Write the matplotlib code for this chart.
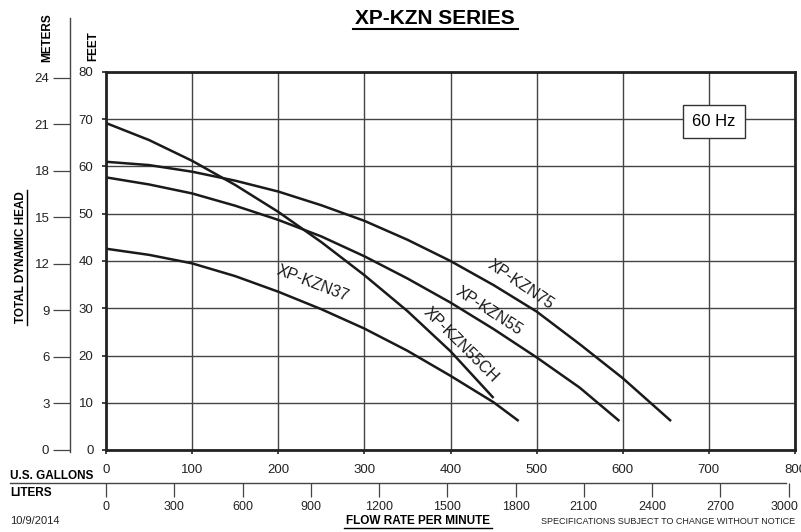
import numpy as np
import matplotlib
matplotlib.use("Agg")
import matplotlib.pyplot as plt
import matplotlib.transforms as mtrans

plt.rcParams['font.family'] = ['Liberation Sans', 'DejaVu Sans']

# flow (US gallons per minute) vs head (feet)
gal_75 = [0, 50, 100, 150, 200, 250, 300, 350, 400, 450, 500, 550, 600, 655]
ft_75 = [61, 60.3, 58.9, 57, 54.7, 51.8, 48.5, 44.5, 40, 34.9, 29.3, 22.4, 15.2, 6.3]

gal_55 = [0, 50, 100, 150, 200, 250, 300, 350, 400, 450, 500, 550, 595]
ft_55 = [57.7, 56.2, 54.3, 51.7, 48.7, 45.2, 41, 36.3, 31.2, 25.6, 19.6, 13.2, 6.3]

gal_55ch = [0, 50, 100, 150, 200, 250, 300, 350, 400, 449]
ft_55ch = [69.2, 65.6, 61.2, 56.1, 50.4, 44, 37, 29.4, 20.9, 11.2]

gal_37 = [0, 50, 100, 150, 200, 250, 300, 350, 400, 450, 478]
ft_37 = [42.6, 41.3, 39.5, 36.8, 33.5, 29.8, 25.7, 21, 15.7, 10.1, 6.3]

gal_ticks = list(range(0, 801, 100))
ft_ticks = list(range(0, 81, 10))
m_ticks = list(range(0, 25, 3))
l_ticks = list(range(0, 3001, 300))

curve_labels = ["XP-KZN75", "XP-KZN55", "XP-KZN55CH", "XP-KZN37"]

fig = plt.figure(figsize=(8.01, 5.32), dpi=100)
ax = fig.add_axes([106 / 801, 1 - 450 / 532, 689 / 801, 378 / 532])

ax.set_xlim(0, 800)
ax.set_ylim(0, 80)
ax.set_xticks(gal_ticks)
ax.set_yticks(ft_ticks)
ax.grid(True, color='#444444', linewidth=1.0)
ax.set_axisbelow(True)
for s in ax.spines.values():
    s.set_linewidth(2.0)
    s.set_color('#222222')
ax.tick_params(axis='both', labelsize=9.5, length=3, width=1.2, colors='#222222')
ax.tick_params(axis='y', pad=6)
ax.tick_params(axis='x', pad=7)

lc = '#1a1a1a'
ax.plot(gal_75, ft_75, color=lc, lw=1.8)
ax.plot(gal_55, ft_55, color=lc, lw=1.8)
ax.plot(gal_55ch, ft_55ch, color=lc, lw=1.8)
ax.plot(gal_37, ft_37, color=lc, lw=1.8)

lab_kw = dict(fontsize=11.5, color='#1a1a1a', ha='center', va='center', rotation_mode='anchor')
ax.text(481, 35.0, curve_labels[0], rotation=-34, **lab_kw)
ax.text(445, 29.5, curve_labels[1], rotation=-33, **lab_kw)
ax.text(412, 22.3, curve_labels[2], rotation=-45, **lab_kw)
ax.text(240, 35.3, curve_labels[3], rotation=-21, **lab_kw)

ax.text(706, 69.5, "60 Hz", fontsize=12, ha='center', va='center',
        bbox=dict(boxstyle='square,pad=0.55', fc='white', ec='#333333', lw=1))

# meters axis
m_ax = ax.secondary_yaxis(-0.052, functions=(lambda f: f * 0.3048, lambda m: m / 0.3048))
m_ax.set_yticks(m_ticks)
m_ax.spines['left'].set_visible(False)
m_ax.tick_params(axis='y', length=12, width=0.9, colors='#444444', labelcolor='#222222',
                 labelsize=9.5, pad=3)
ax.plot([-0.052, -0.052], [-0.005, 1.143], transform=ax.transAxes, clip_on=False,
        color='#444444', lw=1)

# liters axis
l_ax = ax.secondary_xaxis(-0.0873, functions=(lambda g: g * 3.78541, lambda l: l / 3.78541))
l_ax.set_xticks(l_ticks)
l_ax.spines['bottom'].set_visible(False)
l_ax.tick_params(axis='x', length=10, width=0.9, colors='#444444', labelcolor='#222222',
                 labelsize=9, pad=3)
ax.plot([-0.139, 0.9875], [-0.0873, -0.0873], transform=ax.transAxes, clip_on=False,
        color='#444444', lw=1)
last = l_ax.get_xticklabels()[-1]
last.set_transform(last.get_transform() + mtrans.ScaledTranslation(-4 / 100, 0, fig.dpi_scale_trans))

# texts
fig.text(435 / 801, 1 - 18 / 532, "XP-KZN SERIES", fontsize=15, fontweight='bold',
         ha='center', va='center')
fig.add_artist(plt.Line2D([353 / 801, 518 / 801], [1 - 29 / 532, 1 - 29 / 532], color='black', lw=1.5))

fig.text(47 / 801, 1 - 38 / 532, "METERS", fontsize=8.5, fontweight='bold', rotation=90,
         ha='center', va='center')
fig.text(93 / 801, 1 - 46 / 532, "FEET", fontsize=8.5, fontweight='bold', rotation=90,
         ha='center', va='center')
fig.text(21 / 801, 1 - 257 / 532, "TOTAL DYNAMIC HEAD", fontsize=8.5, fontweight='bold',
         rotation=90, ha='center', va='center')
fig.add_artist(plt.Line2D([27 / 801, 27 / 801], [1 - 325 / 532, 1 - 190 / 532], color='black', lw=1))

fig.text(10 / 801, 1 - 476 / 532, "U.S. GALLONS", fontsize=8.5, fontweight='bold',
         ha='left', va='center')
fig.text(10 / 801, 1 - 493 / 532, "LITERS", fontsize=8.5, fontweight='bold',
         ha='left', va='center')

fig.text(418 / 801, 1 - 521 / 532, "FLOW RATE PER MINUTE", fontsize=8.5, fontweight='bold',
         ha='center', va='center')
fig.add_artist(plt.Line2D([344 / 801, 492 / 801], [1 - 528 / 532, 1 - 528 / 532], color='black', lw=1))
fig.text(10 / 801, 1 - 521 / 532, "10/9/2014", fontsize=8, ha='left', va='center', color='#222222')
fig.text(795 / 801, 1 - 521 / 532, "SPECIFICATIONS SUBJECT TO CHANGE WITHOUT NOTICE", fontsize=6.5,
         ha='right', va='center', color='#222222')

fig.savefig("out.png", dpi=100)
